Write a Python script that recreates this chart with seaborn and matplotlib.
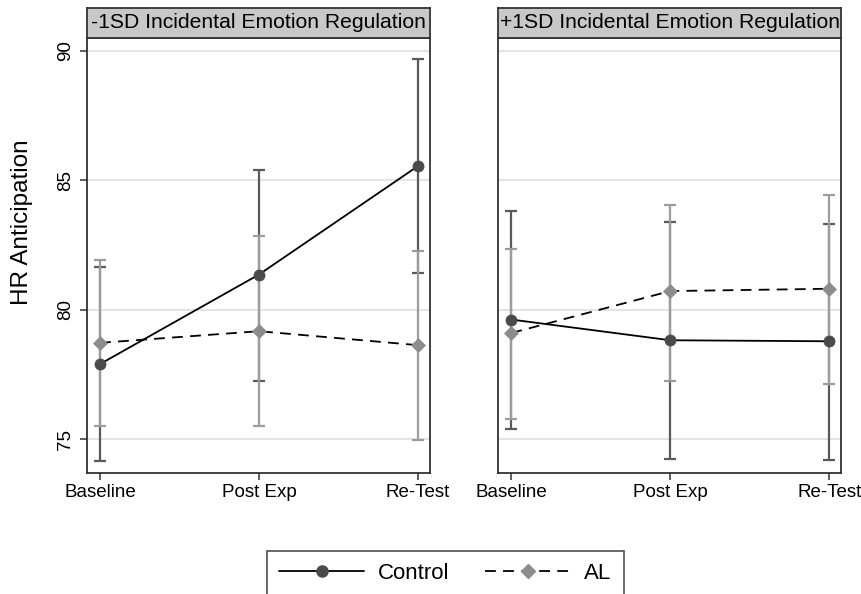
import matplotlib
matplotlib.use("Agg")
import matplotlib.pyplot as plt
from matplotlib.lines import Line2D
import seaborn as sns
import pandas as pd

# ---- data ----
times = ["Baseline", "Post Exp", "Re-Test"]
panels = ["-1SD Incidental Emotion Regulation", "+1SD Incidental Emotion Regulation"]
groups = ["Control", "AL"]

low_control = [77.90, 81.36, 85.55]
low_control_lo = [74.15, 77.25, 81.40]
low_control_hi = [81.66, 85.40, 89.69]
low_al = [78.72, 79.17, 78.63]
low_al_lo = [75.51, 75.50, 74.96]
low_al_hi = [81.93, 82.83, 82.28]

high_control = [79.62, 78.82, 78.78]
high_control_lo = [75.39, 74.25, 74.19]
high_control_hi = [83.82, 83.39, 83.32]
high_al = [79.10, 80.72, 80.81]
high_al_lo = [75.77, 77.25, 77.12]
high_al_hi = [82.34, 84.04, 84.44]

y_ticks = [75, 80, 85, 90]

rows = []
series = {
    (panels[0], "Control"): (low_control, low_control_lo, low_control_hi),
    (panels[0], "AL"): (low_al, low_al_lo, low_al_hi),
    (panels[1], "Control"): (high_control, high_control_lo, high_control_hi),
    (panels[1], "AL"): (high_al, high_al_lo, high_al_hi),
}
for (p, g), (m, lo, hi) in series.items():
    for t, mv, lv, hv in zip(times, m, lo, hi):
        rows.append(dict(panel=p, group=g, time=t, mean=mv, lo=lv, hi=hv))
df = pd.DataFrame(rows)

# ---- style ----
sns.set_style("white")
plt.rcParams["font.family"] = ["Liberation Sans", "DejaVu Sans"]
plt.rcParams["text.color"] = "black"
plt.rcParams["axes.labelcolor"] = "black"
plt.rcParams["xtick.color"] = "#333333"
plt.rcParams["ytick.color"] = "#333333"
plt.rcParams["xtick.labelcolor"] = "black"
plt.rcParams["ytick.labelcolor"] = "black"

styles = {
    "Control": dict(line="black", ls="-", marker="o", mcol="#4a4a4a", ms=8.0,
                    ecol="#5a5a5a", z=2),
    "AL": dict(line="black", ls=(0, (6, 4)), marker="D", mcol="#8c8c8c", ms=7.0,
               ecol="#9c9c9c", z=3),
}

W, H = 862, 594
fig = plt.figure(figsize=(W / 100, H / 100), dpi=100)

ax_left_px = [87, 498.3]
ax_w_px = 343
ax_top_px, ax_bot_px = 38, 473
strip_h_px = 30

axes = []
for i, p in enumerate(panels):
    l = ax_left_px[i] / W
    b = 1 - ax_bot_px / H
    w = ax_w_px / W
    h = (ax_bot_px - ax_top_px) / H
    ax = fig.add_axes([l, b, w, h])
    axes.append(ax)
    sub = df[df.panel == p]
    for g in groups:
        st = styles[g]
        d = sub[sub.group == g]
        ax.errorbar(d["time"], d["mean"],
                    yerr=[d["mean"] - d["lo"], d["hi"] - d["mean"]],
                    fmt="none", ecolor=st["ecol"], elinewidth=1.6, capsize=4.2,
                    capthick=1.6, zorder=st["z"])
    for g in groups:
        st = styles[g]
        d = sub[sub.group == g]
        sns.lineplot(data=d, x="time", y="mean", ax=ax, color=st["line"],
                     linestyle=st["ls"], linewidth=1.3, marker=st["marker"],
                     markersize=st["ms"], markerfacecolor=st["mcol"],
                     markeredgecolor=st["mcol"], markeredgewidth=0.5,
                     sort=False, zorder=5, legend=False)
    ax.set_xlim(-0.082, 2.076)
    ax.set_ylim(73.69, 90.5)
    ax.set_yticks(y_ticks)
    ax.grid(axis="y", color="#dcdcdc", linewidth=1.1)
    ax.grid(axis="x", visible=False)
    ax.set_axisbelow(True)
    for s in ax.spines.values():
        s.set_color("#333333")
        s.set_linewidth(1.3)
    ax.set_xlabel("")
    ax.tick_params(axis="x", bottom=True, length=5, width=1.1, pad=3,
                   labelsize=13.5, direction="out")
    if i == 0:
        ax.tick_params(axis="y", left=True, length=5, width=1.1, pad=4,
                       labelsize=13.5, direction="out")
        for lab in ax.get_yticklabels():
            lab.set_rotation(90)
            lab.set_va("center")
        ax.set_ylabel("HR Anticipation", fontsize=17.5)
        ax.yaxis.set_label_coords(-0.157, 0.577)
    else:
        ax.tick_params(axis="y", left=False, labelleft=False)
        ax.set_ylabel("")

    # strip title
    sax = fig.add_axes([l, 1 - ax_top_px / H, w, strip_h_px / H])
    sax.set_facecolor("#c8c8c8")
    sax.set_xticks([])
    sax.set_yticks([])
    for s in sax.spines.values():
        s.set_color("#333333")
        s.set_linewidth(1.3)
    sax.text(0.5, 0.5, p, ha="center", va="center", fontsize=15.2,
             transform=sax.transAxes)

handles = []
for g in groups:
    st = styles[g]
    handles.append(Line2D([], [], color=st["line"], linestyle=st["ls"], linewidth=1.3,
                          marker=st["marker"], markersize=st["ms"],
                          markerfacecolor=st["mcol"], markeredgecolor=st["mcol"]))
leg = fig.legend(handles, groups, loc="upper center",
                 bbox_to_anchor=(445.5 / W, 1 - 551 / H), ncol=2,
                 frameon=True, fancybox=False, edgecolor="#222222",
                 fontsize=16, handlelength=3.8, handletextpad=0.65,
                 columnspacing=1.6, borderpad=0.55, borderaxespad=0)
leg.get_frame().set_linewidth(1.2)

fig.savefig("out.png", dpi=100)
